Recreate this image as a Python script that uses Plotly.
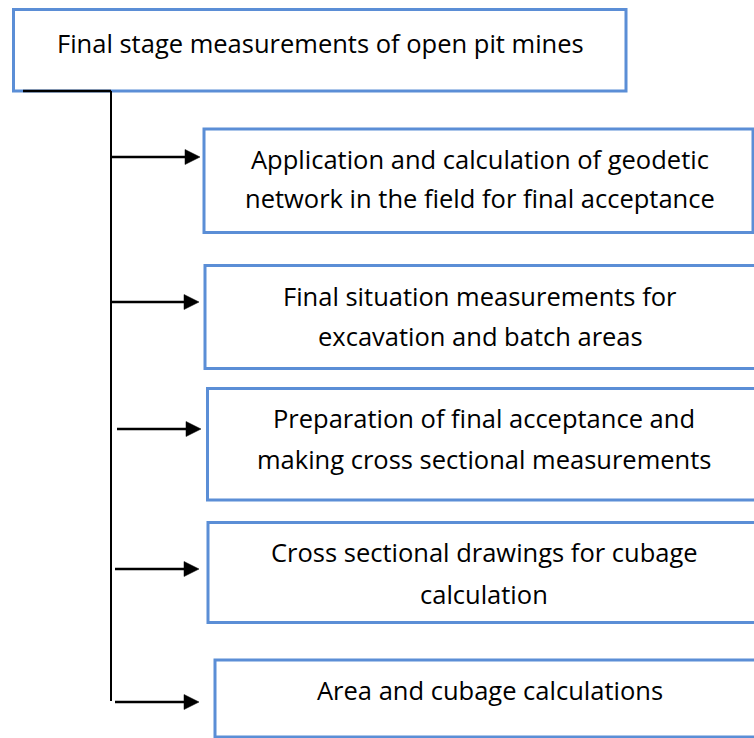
import plotly.graph_objects as go

# ---- content ----
root_label = ["Final stage measurements of open pit mines"]
step_labels = [
    ["Application and calculation of geodetic", "network in the field for final acceptance"],
    ["Final situation measurements for", "excavation and batch areas"],
    ["Preparation of final acceptance and", "making cross sectional measurements"],
    ["Cross sectional drawings for cubage", "calculation"],
    ["Area and cubage calculations"],
]

# ---- layout geometry (pixels, y downward) ----
W, H = 754, 738
root_box = (13.5, 9.5, 626, 91)
root_text_y = [43]
root_text_x = 320
step_boxes = [
    (204, 129, 753, 232.5),
    (205, 265.5, 762, 368.5),
    (207.5, 388.5, 762, 500),
    (208, 522.5, 762, 622.5),
    (215, 660, 762, 737),
]
step_text_x = [480, 480, 484, 484, 490]
step_text_y = [[159, 198], [296, 336], [418, 459], [552, 594], [690]]
arrows = [  # (x_start, x_tip, y)
    (111, 200, 157),
    (111, 199, 302),
    (117, 201, 429),
    (115, 199, 569),
    (115, 199, 702),
]
spine_x = 111
spine_y = (91, 701)
elbow_x0 = 23

BLUE = "#5B8ED6"
FONT = "Open Sans"
FS = 25.5

shapes = []
annotations = []

def box(b):
    x0, y0, x1, y1 = b
    shapes.append(dict(type="rect", xref="x", yref="y", x0=x0, y0=y0, x1=x1, y1=y1,
                       line=dict(color=BLUE, width=3), fillcolor="white", layer="below"))

box(root_box)
for b in step_boxes:
    box(b)

def text(x, y, s):
    annotations.append(dict(x=x, y=y, xref="x", yref="y", text=s, showarrow=False,
                            xanchor="center", yanchor="middle",
                            font=dict(family=FONT, size=FS, color="black")))

for line, y in zip(root_label, root_text_y):
    text(root_text_x, y, line)
for lines, xs, ys in zip(step_labels, step_text_x, step_text_y):
    for line, y in zip(lines, ys):
        text(xs, y, line)

# connectors
shapes.append(dict(type="line", xref="x", yref="y", x0=elbow_x0, y0=spine_y[0], x1=spine_x, y1=spine_y[0],
                   line=dict(color="black", width=2.5)))
shapes.append(dict(type="line", xref="x", yref="y", x0=spine_x, y0=spine_y[0], x1=spine_x, y1=spine_y[1],
                   line=dict(color="black", width=2)))
for xs, xt, y in arrows:
    shapes.append(dict(type="line", xref="x", yref="y", x0=xs, y0=y, x1=xt - 12, y1=y,
                       line=dict(color="black", width=2.5)))
    shapes.append(dict(type="path", xref="x", yref="y",
                       path=f"M {xt-15},{y-7.5} L {xt},{y} L {xt-15},{y+7.5} Z",
                       fillcolor="black", line=dict(color="black", width=0.5)))

fig = go.Figure()
fig.update_layout(
    width=W, height=H,
    margin=dict(l=0, r=0, t=0, b=0),
    paper_bgcolor="white", plot_bgcolor="white",
    xaxis=dict(range=[0, W], visible=False, fixedrange=True),
    yaxis=dict(range=[H, 0], visible=False, fixedrange=True),
    shapes=shapes, annotations=annotations, showlegend=False,
)
fig.write_html("out.html", config={"displayModeBar": False},
               post_script="document.body.style.margin='0';document.body.style.overflow='hidden';")
